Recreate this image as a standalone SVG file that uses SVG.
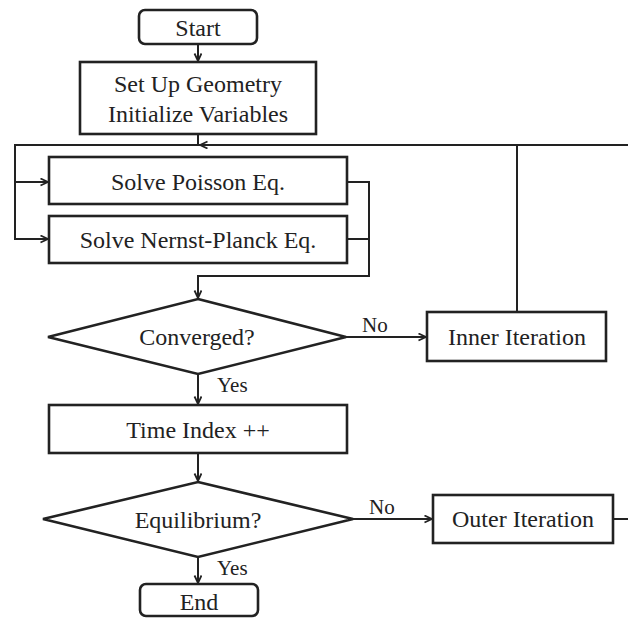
<svg xmlns="http://www.w3.org/2000/svg" width="628" height="618" viewBox="0 0 628 618">
<defs>
<marker id="arr" markerWidth="10" markerHeight="10" refX="8" refY="4" orient="auto" markerUnits="userSpaceOnUse">
<path d="M0.5,0.5 L8,4 L0.5,7.5" fill="none" stroke="#222" stroke-width="1.8"/>
</marker>
<style>
.box{fill:#fff;stroke:#222;stroke-width:2.6}
.conn{fill:none;stroke:#222;stroke-width:2}
.t{font-family:"Liberation Serif","Times New Roman",serif;font-size:24px;fill:#222;text-anchor:middle}
.lbl{font-family:"Liberation Serif","Times New Roman",serif;font-size:21px;fill:#222}
</style>
</defs>
<rect width="628" height="618" fill="#fff"/>
<g id="connectors">
<path class="conn" d="M198,44 V61" marker-end="url(#arr)"/>
<path class="conn" d="M198,134 V145"/>
<path class="conn" d="M628,145 H200" marker-end="url(#arr)"/>
<path class="conn" d="M200,145 H15 V239 H48" marker-end="url(#arr)"/>
<path class="conn" d="M15,182 H48" marker-end="url(#arr)"/>
<path class="conn" d="M347,182 H369 V276 H198 V298" marker-end="url(#arr)"/>
<path class="conn" d="M347,239 H369"/>
<path class="conn" d="M346,337 H426" marker-end="url(#arr)"/>
<path class="conn" d="M517,312 V145"/>
<path class="conn" d="M198,374 V404" marker-end="url(#arr)"/>
<path class="conn" d="M198,453 V481" marker-end="url(#arr)"/>
<path class="conn" d="M353,519 H432" marker-end="url(#arr)"/>
<path class="conn" d="M198,557 V583" marker-end="url(#arr)"/>
<path class="conn" d="M613,519 H628"/>
<text class="lbl" x="362" y="332">No</text>
<text class="lbl" x="217" y="392">Yes</text>
<text class="lbl" x="369" y="514">No</text>
<text class="lbl" x="217" y="575">Yes</text>
</g>
<g id="start">
<rect class="box" x="139" y="10" width="118" height="34" rx="6"/>
<text class="t" x="198" y="36">Start</text>
</g>
<g id="setup">
<rect class="box" x="80" y="62" width="236" height="72"/>
<text class="t" x="198" y="92">Set Up Geometry</text>
<text class="t" x="198" y="122">Initialize Variables</text>
</g>
<g id="poisson">
<rect class="box" x="49" y="157" width="298" height="47"/>
<text class="t" x="198" y="190">Solve Poisson Eq.</text>
</g>
<g id="nernst">
<rect class="box" x="49" y="216" width="298" height="47"/>
<text class="t" x="198" y="248">Solve Nernst-Planck Eq.</text>
</g>
<g id="converged">
<polygon class="box" points="198,299 346,337 198,374 48,337"/>
<text class="t" x="197" y="345">Converged?</text>
</g>
<g id="inner">
<rect class="box" x="427" y="312" width="179" height="49"/>
<text class="t" x="517" y="345">Inner Iteration</text>
</g>
<g id="time">
<rect class="box" x="49" y="405" width="298" height="48"/>
<text class="t" x="198" y="438">Time Index ++</text>
</g>
<g id="equilibrium">
<polygon class="box" points="198,482 353,519 198,557 43,519"/>
<text class="t" x="198" y="528">Equilibrium?</text>
</g>
<g id="outer">
<rect class="box" x="433" y="495" width="180" height="48"/>
<text class="t" x="523" y="527">Outer Iteration</text>
</g>
<g id="end">
<rect class="box" x="140" y="584" width="118" height="32" rx="6"/>
<text class="t" x="199" y="610">End</text>
</g>
</svg>
